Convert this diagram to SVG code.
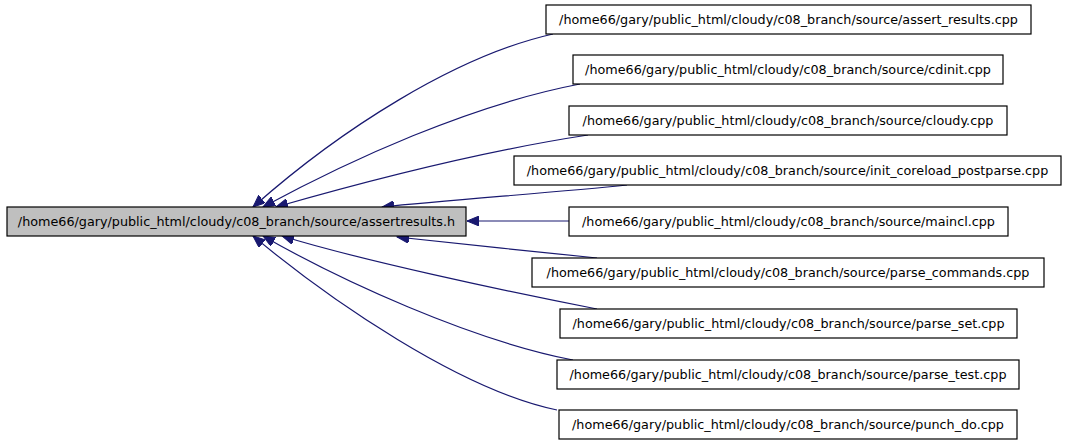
<svg xmlns="http://www.w3.org/2000/svg" width="1067" height="443" viewBox="0 0 1067 443">
<style>
text { font-family: "DejaVu Sans", "Liberation Sans", sans-serif; font-size: 12.75px; fill: #000; text-anchor: middle; }
.n rect { fill: #fff; stroke: #000; stroke-width: 1.2; }
#n0 rect { fill: #bfbfbf; }
.e path { fill: none; stroke: #191970; stroke-width: 1.2; }
</style>
<defs>
<marker id="ah" markerUnits="userSpaceOnUse" markerWidth="14" markerHeight="10" refX="12" refY="5" orient="auto">
<path d="M0,0 L12,5 L0,10 Z" fill="#191970" stroke="#191970" stroke-width="1"/>
</marker>
</defs>
<rect width="1067" height="443" fill="#fff"/>
<g id="edges" class="e">
<path d="M553,34 C455,56 340,130 253,207" marker-end="url(#ah)"/>
<path d="M580,84 C470,105 350,160 263,207" marker-end="url(#ah)"/>
<path d="M588,135 C490,150 370,180 276,207" marker-end="url(#ah)"/>
<path d="M627,185 C560,192 450,200 382,207" marker-end="url(#ah)"/>
<path d="M569,221 L467,221" marker-end="url(#ah)"/>
<path d="M597,258 C540,252 450,243 397,237" marker-end="url(#ah)"/>
<path d="M597,309 C500,290 360,260 282,236" marker-end="url(#ah)"/>
<path d="M573,360 C470,340 340,280 263,236" marker-end="url(#ah)"/>
<path d="M557,410 C460,390 330,300 253,236" marker-end="url(#ah)"/>
</g>
<g id="n0" class="n"><rect x="7" y="207" width="459" height="29"/><text x="236.5" y="226">/home66/gary/public_html/cloudy/c08_branch/source/assertresults.h</text></g>
<g id="n1" class="n"><rect x="546" y="5" width="485" height="29"/><text x="788.5" y="24">/home66/gary/public_html/cloudy/c08_branch/source/assert_results.cpp</text></g>
<g id="n2" class="n"><rect x="573" y="55" width="430" height="29"/><text x="788" y="74">/home66/gary/public_html/cloudy/c08_branch/source/cdinit.cpp</text></g>
<g id="n3" class="n"><rect x="569" y="106" width="438" height="29"/><text x="788" y="125">/home66/gary/public_html/cloudy/c08_branch/source/cloudy.cpp</text></g>
<g id="n4" class="n"><rect x="514" y="156" width="547" height="29"/><text x="787.5" y="175">/home66/gary/public_html/cloudy/c08_branch/source/init_coreload_postparse.cpp</text></g>
<g id="n5" class="n"><rect x="569" y="207" width="439" height="29"/><text x="788.5" y="226">/home66/gary/public_html/cloudy/c08_branch/source/maincl.cpp</text></g>
<g id="n6" class="n"><rect x="532" y="258" width="512" height="29"/><text x="788" y="277">/home66/gary/public_html/cloudy/c08_branch/source/parse_commands.cpp</text></g>
<g id="n7" class="n"><rect x="560" y="309" width="457" height="29"/><text x="788.5" y="328">/home66/gary/public_html/cloudy/c08_branch/source/parse_set.cpp</text></g>
<g id="n8" class="n"><rect x="557" y="360" width="462" height="29"/><text x="788" y="379">/home66/gary/public_html/cloudy/c08_branch/source/parse_test.cpp</text></g>
<g id="n9" class="n"><rect x="559" y="410" width="458" height="29"/><text x="788" y="429">/home66/gary/public_html/cloudy/c08_branch/source/punch_do.cpp</text></g>
</svg>
